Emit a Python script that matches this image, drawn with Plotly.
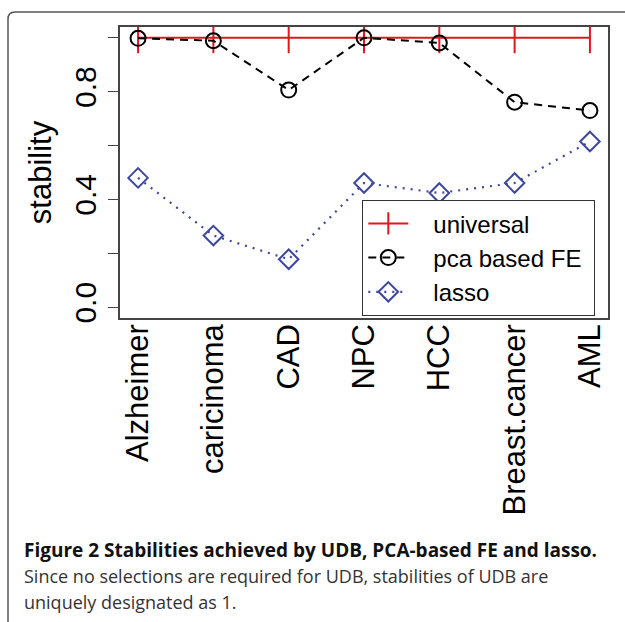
import plotly.graph_objects as go

categories = ["Alzheimer", "caricinoma", "CAD", "NPC", "HCC", "Breast.cancer", "AML"]
universal = [1.0, 1.0, 1.0, 1.0, 1.0, 1.0, 1.0]
pca_fe = [0.998, 0.989, 0.806, 1.0, 0.981, 0.761, 0.730]
lasso = [0.480, 0.266, 0.178, 0.461, 0.424, 0.461, 0.615]
ytick_vals = [0.0, 0.2, 0.4, 0.6, 0.8, 1.0]
ytick_text = ["0.0", "", "0.4", "", "0.8", ""]

xs = list(range(1, len(categories) + 1))
NB = "\u00a0"

fig = go.Figure()
fig.add_trace(go.Scatter(
    x=xs, y=universal, mode="lines+markers", name=NB * 3 + "universal",
    line=dict(color="#e8141c", width=2),
    marker=dict(symbol="line-ns-open", size=22, line=dict(color="#e8141c", width=2)),
))
fig.add_trace(go.Scatter(
    x=xs, y=pca_fe, mode="lines+markers", name=NB * 3 + "pca based FE" + NB,
    line=dict(color="black", width=2, dash="8px,6px"),
    marker=dict(symbol="circle-open", size=15, color="black", line=dict(color="black", width=2)),
))
fig.add_trace(go.Scatter(
    x=xs, y=lasso, mode="lines+markers", name=NB * 3 + "lasso",
    line=dict(color="#3d47a0", width=2.2, dash="2px,6px"),
    marker=dict(symbol="diamond-open", size=15, color="#3d47a0", line=dict(color="#3d47a0", width=2)),
))

# plot-area pixel geometry: x 120..608, y 27..318
L, R, T, B = 120, 608, 27, 318
W, H = R - L, B - T

def px(xp):
    return (xp - L) / W

def py(yp):
    return (B - yp) / H

# outer rounded frame
xl, yt = px(8), py(12)
xr, yb = px(640), py(640)
dx, dy = 7 / W, 7 / H
path = (f"M {xl},{yb} L {xl},{yt - dy} Q {xl},{yt} {xl + dx},{yt} L {xr},{yt}")
fig.add_shape(type="path", xref="paper", yref="paper", path=path,
              line=dict(color="#555555", width=1.5))

cap_font = "Open Sans"
fig.add_annotation(xref="paper", yref="paper", x=px(22), y=py(550), xanchor="left", yanchor="middle",
                   showarrow=False, text="<b>Figure 2 Stabilities achieved by UDB, PCA-based FE and lasso.</b>",
                   font=dict(family=cap_font, size=19, color="#111111"))
fig.add_annotation(xref="paper", yref="paper", x=px(22), y=py(576), xanchor="left", yanchor="middle",
                   showarrow=False, text="Since no selections are required for UDB, stabilities of UDB are",
                   font=dict(family=cap_font, size=18, color="#333333"))
fig.add_annotation(xref="paper", yref="paper", x=px(22), y=py(602), xanchor="left", yanchor="middle",
                   showarrow=False, text="uniquely designated as 1.",
                   font=dict(family=cap_font, size=18, color="#333333"))

fig.update_layout(
    width=625, height=622,
    margin=dict(l=L, r=625 - R, t=T, b=622 - B),
    paper_bgcolor="white", plot_bgcolor="white",
    font=dict(family="Liberation Sans", color="black"),
    showlegend=True,
    legend=dict(x=px(362), y=py(200), xanchor="left", yanchor="top",
                bordercolor="#333333", borderwidth=1.3, bgcolor="white",
                font=dict(size=24, family="Liberation Sans"),
                tracegroupgap=0, itemwidth=40),
    xaxis=dict(range=[0.76, 7.24], tickvals=xs, ticktext=categories, tickangle=-90,
               ticks="", showgrid=False, zeroline=False, ticklabelstandoff=-8,
               showline=True, linecolor="#444444", linewidth=1.5, mirror=True,
               tickfont=dict(size=31)),
    yaxis=dict(range=[-0.04, 1.04], tickvals=ytick_vals, ticktext=ytick_text, tickangle=-90,
               ticks="outside", ticklen=10, tickcolor="#444444", tickwidth=1.3,
               showgrid=False, zeroline=False,
               showline=True, linecolor="#444444", linewidth=1.5, mirror=True,
               tickfont=dict(size=30),
               title=dict(text="stability", font=dict(size=31), standoff=8)),
)

fig.write_html("out.html", config={"displayModeBar": False},
               post_script="document.body.style.margin='0';")
